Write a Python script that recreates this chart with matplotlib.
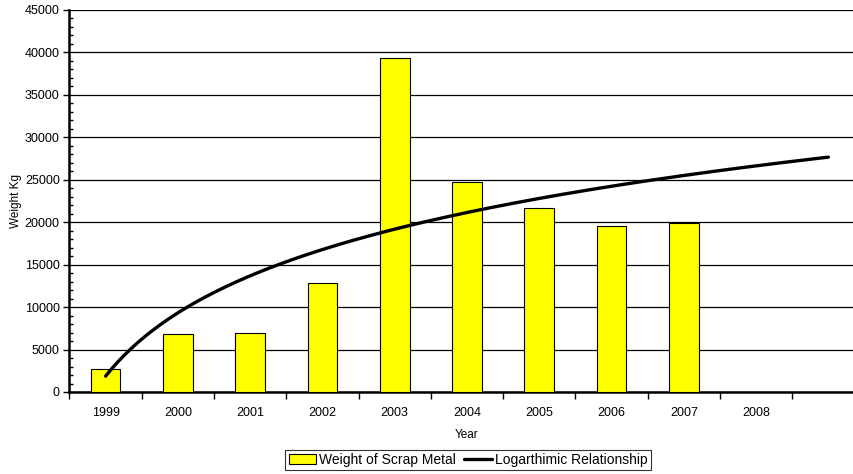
import matplotlib.pyplot as plt
from matplotlib.ticker import MultipleLocator
import numpy as np

plt.rcParams["font.family"] = ["Liberation Sans", "DejaVu Sans"]

# data
years = ["1999", "2000", "2001", "2002", "2003", "2004", "2005", "2006", "2007", "2008", ""]
weights = [2680, 6870, 6990, 12840, 39340, 24730, 21670, 19550, 19870]

# logarithmic trend fitted to the bars, extended over every category
xs = np.arange(1, len(weights) + 1)
a, b = np.polyfit(np.log(xs), weights, 1)
xt = np.linspace(1, len(years), 200)
trend = a * np.log(xt) + b

fig = plt.figure(figsize=(8.54, 4.74), dpi=100)
ax = fig.add_axes([69.5 / 854, 1 - 392 / 474, 795 / 854, 382 / 474])

pos = np.arange(len(weights))
bars = ax.bar(pos, weights, width=0.41, color="#ffff00", edgecolor="black",
              linewidth=0.8, zorder=3, label="Weight of Scrap Metal")
line, = ax.plot(xt - 1, trend, color="black", linewidth=2.4, zorder=4,
                solid_capstyle="round", label="Logarthimic Relationship")

ax.set_xlim(-0.5, len(years) - 0.5)
ax.set_ylim(0, 45000)
ax.yaxis.set_major_locator(MultipleLocator(5000))
ax.yaxis.set_minor_locator(MultipleLocator(1000))
ax.grid(axis="y", which="major", color="black", linewidth=0.9, zorder=1)

# x ticks at category boundaries, labels centred in categories
ax.set_xticks(np.arange(len(years)) - 0.5)
ax.set_xticklabels([])
ax.set_xticks(np.arange(len(years)), minor=True)
ax.set_xticklabels(years, minor=True)
ax.tick_params(axis="x", which="major", direction="out", length=5, width=1)
ax.tick_params(axis="x", which="minor", length=0, pad=11, labelsize=9)
ax.tick_params(axis="y", which="major", direction="out", length=4, width=1,
               labelsize=9, pad=3)
ax.tick_params(axis="y", which="minor", direction="in", length=3, width=1)

for s in ["right", "top"]:
    ax.spines[s].set_visible(False)
ax.spines["left"].set_linewidth(1.8)
ax.spines["bottom"].set_linewidth(1.8)

ax.set_xlabel("Year", fontsize=8.5, labelpad=7)
ax.set_ylabel("Weight Kg", fontsize=8.5, labelpad=2)

leg = fig.legend(handles=[bars, line], loc="center",
                 bbox_to_anchor=(468 / 854, 1 - 460 / 474),
                 ncol=2, fontsize=10, frameon=True, fancybox=False,
                 edgecolor="black", handlelength=2.0, handletextpad=0.2,
                 columnspacing=0.6, borderpad=0.25, borderaxespad=0)
leg.get_frame().set_linewidth(0.8)

fig.savefig("out.png", dpi=100)
